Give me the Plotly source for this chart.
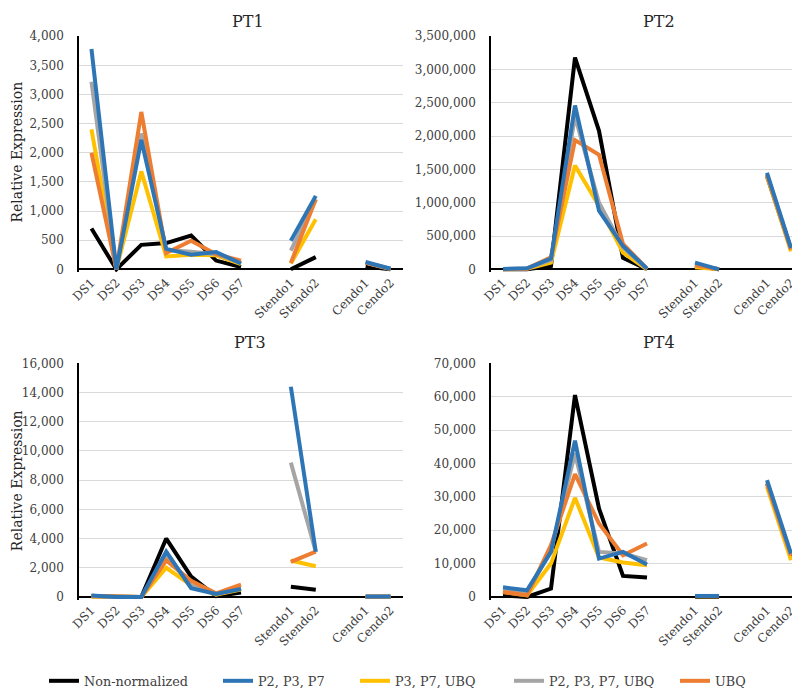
import plotly.graph_objects as go

# ---- data ----
categories = ["DS1", "DS2", "DS3", "DS4", "DS5", "DS6", "DS7", " ",
              "Stendo1", "Stendo2", "  ", "Cendo1", "Cendo2"]

series_names = ["Non-normalized", "P2, P3, P7", "P3, P7, UBQ", "P2, P3, P7, UBQ", "UBQ"]
series_colors = ["#000000", "#2E75B6", "#FFC000", "#A5A5A5", "#ED7D31"]

pt1_nonnorm = [700, 0, 420, 450, 580, 150, 40, None, 0, 210, None, 50, 0]
pt1_p237 = [3780, 0, 2220, 350, 250, 295, 100, None, 490, 1260, None, 125, 10]
pt1_p37ubq = [2400, 0, 1680, 220, 250, 240, 90, None, 100, 860, None, 110, 5]
pt1_p237ubq = [3220, 0, 2330, 330, 300, 260, 110, None, 320, 1200, None, 115, 8]
pt1_ubq = [2000, 0, 2700, 280, 490, 260, 150, None, 110, 1200, None, 115, 8]

pt2_nonnorm = [0, 0, 50000, 3180000, 2080000, 170000, 0, None, 50000, 0, None, 1400000, 300000]
pt2_p237 = [5000, 15000, 160000, 2460000, 880000, 350000, 10000, None, 100000, 0, None, 1450000, 320000]
pt2_p37ubq = [0, 10000, 100000, 1560000, 950000, 250000, 0, None, 30000, 0, None, 1400000, 270000]
pt2_p237ubq = [3000, 12000, 140000, 2300000, 1000000, 330000, 5000, None, 70000, 0, None, 1420000, 300000]
pt2_ubq = [2000, 10000, 180000, 1940000, 1720000, 380000, 10000, None, 60000, 0, None, 1420000, 300000]

pt3_nonnorm = [50, 0, 0, 4000, 1400, 50, 300, None, 700, 500, None, 0, 0]
pt3_p237 = [100, 0, 0, 3100, 600, 200, 550, None, 14400, 3100, None, 30, 30]
pt3_p37ubq = [30, 0, 0, 2000, 800, 150, 500, None, 2500, 2100, None, 20, 20]
pt3_p237ubq = [80, 0, 0, 2800, 800, 200, 600, None, 9200, 3100, None, 25, 25]
pt3_ubq = [60, 0, 0, 2500, 1100, 250, 850, None, 2400, 3100, None, 25, 25]

pt4_nonnorm = [500, 0, 2500, 60500, 26500, 6300, 5800, None, 0, 0, None, 34000, 12000]
pt4_p237 = [2900, 2000, 13500, 46800, 11500, 13500, 9700, None, 300, 300, None, 35000, 13000]
pt4_p37ubq = [1500, 500, 10000, 29700, 11800, 10300, 9500, None, 200, 200, None, 33000, 11000]
pt4_p237ubq = [2000, 1000, 14000, 43000, 13500, 13000, 11000, None, 250, 250, None, 34000, 12500]
pt4_ubq = [1500, 500, 15500, 36800, 22000, 12500, 16000, None, 250, 250, None, 34000, 12500]

panel_titles = ["PT1", "PT2", "PT3", "PT4"]
panel_max = [4000, 3500000, 16000, 70000]
panel_dtick = [500, 500000, 2000, 10000]
panel_data = [
    [pt1_nonnorm, pt1_p237, pt1_p37ubq, pt1_p237ubq, pt1_ubq],
    [pt2_nonnorm, pt2_p237, pt2_p37ubq, pt2_p237ubq, pt2_ubq],
    [pt3_nonnorm, pt3_p237, pt3_p37ubq, pt3_p237ubq, pt3_ubq],
    [pt4_nonnorm, pt4_p237, pt4_p37ubq, pt4_p237ubq, pt4_ubq],
]
y_label = "Relative Expression"

# ---- layout geometry (pixels) ----
W, H = 800, 688
FONT = "DejaVu Serif"
xpix = [(71, 395), (483, 795), (71, 395), (483, 795)]
ypix = [(28.5, 267), (28.5, 267), (359, 598), (359, 598)]  # top, bottom of domain
zero_off = 3  # px between domain bottom and zero line
title_pos = [(240, 14), (651, 14), (242, 338), (651, 338)]
legend_left = [46, 220, 357, 511, 677]  # where each legend entry's line begins
legend_yc = 680

draw_order = [0, 2, 3, 4, 1]
legend_ids = ["legend", "legend2", "legend3", "legend4", "legend5"]

fig = go.Figure()
for p in range(4):
    ax = "" if p == 0 else str(p + 1)
    for s in draw_order:
        fig.add_trace(go.Scatter(
            x=categories, y=panel_data[p][s], mode="lines",
            name=series_names[s], legendgroup=series_names[s],
            showlegend=(p == 0), legend=legend_ids[s],
            line=dict(color=series_colors[s], width=4),
            xaxis="x" + ax, yaxis="y" + ax, connectgaps=False,
            hoverinfo="x+y+name",
        ))

layout = dict(
    width=W, height=H, margin=dict(l=0, r=0, t=0, b=0),
    paper_bgcolor="white", plot_bgcolor="white",
    font=dict(family=FONT, size=12, color="#404040"),
    annotations=[],
)
for s in range(5):
    layout[legend_ids[s]] = dict(
        orientation="h", x=(legend_left[s] - 10) / W, xanchor="left",
        y=1 - legend_yc / H, yanchor="middle",
        font=dict(family=FONT, size=12.8, color="#404040"),
        itemwidth=30, bgcolor="rgba(0,0,0,0)", borderwidth=0,
    )

for p in range(4):
    ax = "" if p == 0 else str(p + 1)
    x0, x1 = xpix[p]
    top, bot = ypix[p]
    hpx = bot - top
    ymax = panel_max[p]
    span_px = hpx - zero_off
    ymin = -zero_off * ymax / span_px
    layout["xaxis" + ax] = dict(
        domain=[x0 / W, x1 / W], anchor="y" + ax, type="category",
        categoryorder="array", categoryarray=categories, range=[-0.5, 12.5],
        tickangle=-45, showgrid=False, showline=False, ticks="", zeroline=False,
        tickfont=dict(family=FONT, size=12, color="#404040"), automargin=False, fixedrange=True,
    )
    layout["yaxis" + ax] = dict(
        domain=[1 - bot / H, 1 - top / H], anchor="x" + ax,
        range=[ymin, ymax], dtick=panel_dtick[p], tick0=0, tickformat=",d",
        showgrid=True, gridcolor="#D9D9D9", gridwidth=1,
        zeroline=True, zerolinecolor="#000000", zerolinewidth=1.5,
        showline=True, linecolor="#000000", linewidth=1.5,
        ticks="", ticklabelstandoff=11,
        tickfont=dict(family=FONT, size=12, color="#404040"), automargin=False, fixedrange=True,
    )
    tx, ty = title_pos[p]
    layout["annotations"].append(dict(
        text=panel_titles[p], x=tx / W, y=1 - ty / H, xref="paper", yref="paper",
        xanchor="center", yanchor="middle", showarrow=False,
        font=dict(size=16, color="#262626", family=FONT)))

for yc in (146, 478):
    layout["annotations"].append(dict(
        text=y_label, x=9 / W, y=1 - yc / H, xref="paper", yref="paper",
        xanchor="center", yanchor="middle", showarrow=False, textangle=-90,
        font=dict(size=14, color="#262626", family=FONT)))

fig.update_layout(**layout)
fig.write_html("out.html")
